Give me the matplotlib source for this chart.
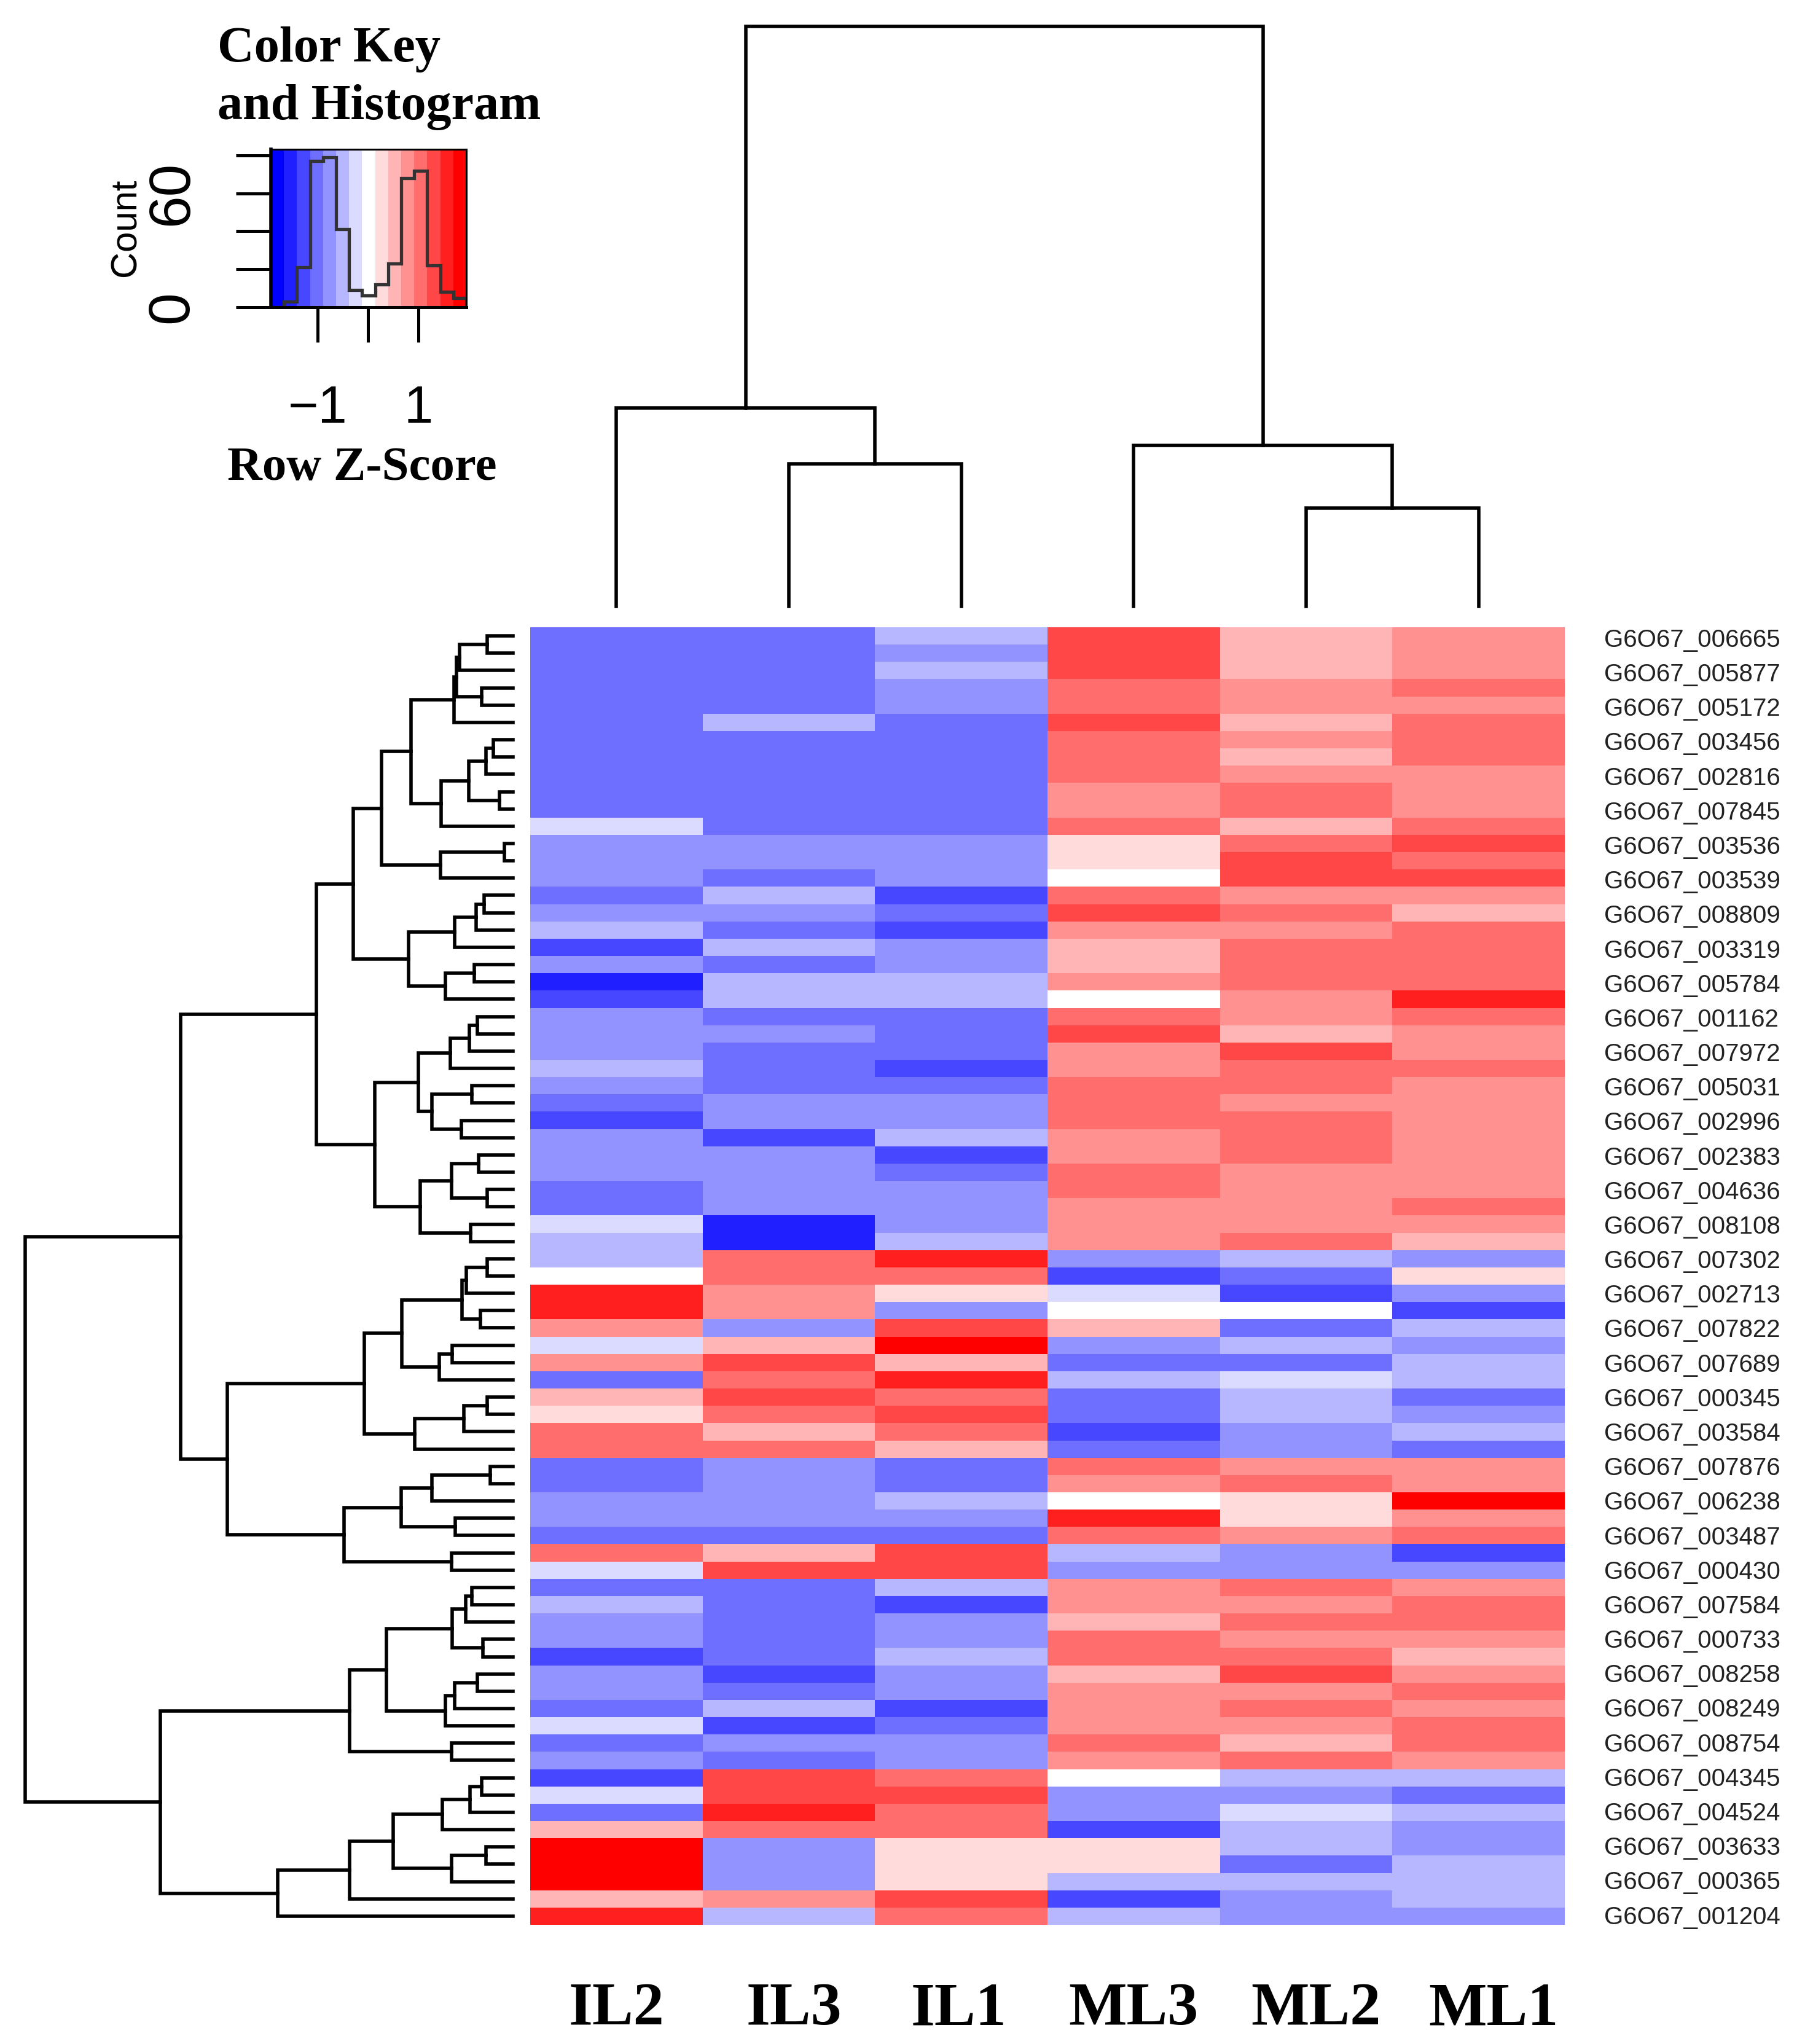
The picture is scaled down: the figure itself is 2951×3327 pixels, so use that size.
"""Heatmap of row z-scores with dendrograms and colour key (heatmap.2 look)."""
import numpy as np
import matplotlib
matplotlib.use('Agg')
import matplotlib.pyplot as plt
from matplotlib.colors import ListedColormap, BoundaryNorm

W, H = 2951, 3327
SERIF = 'Liberation Serif'
SANS = 'Liberation Sans'

SAMPLES = ['IL2', 'IL3', 'IL1', 'ML3', 'ML2', 'ML1']
SAMPLE_X = [1003, 1292, 1560, 1845, 2142, 2431]

GENE_LABELS = [
    'G6O67_006665', 'G6O67_005877', 'G6O67_005172', 'G6O67_003456', 'G6O67_002816',
    'G6O67_007845', 'G6O67_003536', 'G6O67_003539', 'G6O67_008809', 'G6O67_003319',
    'G6O67_005784', 'G6O67_001162', 'G6O67_007972', 'G6O67_005031', 'G6O67_002996',
    'G6O67_002383', 'G6O67_004636', 'G6O67_008108', 'G6O67_007302', 'G6O67_002713',
    'G6O67_007822', 'G6O67_007689', 'G6O67_000345', 'G6O67_003584', 'G6O67_007876',
    'G6O67_006238', 'G6O67_003487', 'G6O67_000430', 'G6O67_007584', 'G6O67_000733',
    'G6O67_008258', 'G6O67_008249', 'G6O67_008754', 'G6O67_004345', 'G6O67_004524',
    'G6O67_003633', 'G6O67_000365', 'G6O67_001204',
]

# colour bins of the key, -7 (blue) .. 7 (red)
KEY_COLORS = ['#0000FF', '#1F1FFF', '#4747FF', '#6E6EFF', '#9393FF', '#B7B7FF', '#DBDBFF',
              '#FFFFFF', '#FFDBDB', '#FFB5B5', '#FF9191', '#FF6D6D', '#FF4747', '#FF1F1F', '#FF0000']
KEY_LEVELS = [-7, -6, -5, -4, -3, -2, -1, 0, 1, 2, 3, 4, 5, 6, 7]
HIST_COUNTS = [0, 3, 21, 77, 79, 41, 9, 6, 12, 23, 68, 72, 22, 8, 5]

# binned z-score per row: IL2, IL3, IL1, ML3, ML2, ML1
ROWS = [
    [-4, -4, -2, 5, 2, 3], [-4, -4, -3, 5, 2, 3], [-4, -4, -2, 5, 2, 3], [-4, -4, -3, 4, 3, 4],
    [-4, -4, -3, 4, 3, 3], [-4, -2, -4, 5, 2, 4], [-4, -4, -4, 4, 3, 4], [-4, -4, -4, 4, 2, 4],
    [-4, -4, -4, 4, 3, 3], [-4, -4, -4, 3, 4, 3], [-4, -4, -4, 3, 4, 3], [-1, -4, -4, 4, 2, 4],
    [-3, -3, -3, 1, 4, 5], [-3, -3, -3, 1, 5, 4], [-3, -4, -3, 0, 5, 5], [-4, -2, -5, 4, 3, 3],
    [-3, -3, -4, 5, 4, 2], [-2, -4, -5, 3, 3, 4], [-5, -2, -3, 2, 4, 4], [-3, -4, -3, 2, 4, 4],
    [-6, -2, -2, 3, 4, 4], [-5, -2, -2, 0, 3, 6], [-3, -4, -4, 4, 3, 4], [-3, -3, -4, 5, 2, 3],
    [-3, -4, -4, 3, 5, 3], [-2, -4, -5, 3, 4, 4], [-3, -4, -4, 4, 4, 3], [-4, -3, -3, 4, 3, 3],
    [-5, -3, -3, 4, 4, 3], [-3, -5, -2, 3, 4, 3], [-3, -3, -5, 3, 4, 3], [-3, -3, -4, 4, 3, 3],
    [-4, -3, -3, 4, 3, 3], [-4, -3, -3, 3, 3, 4], [-1, -6, -3, 3, 3, 3], [-2, -6, -2, 3, 4, 2],
    [-2, 4, 6, -3, -2, -3], [0, 4, 4, -5, -4, 1], [6, 3, 1, -1, -5, -3], [6, 3, -3, 0, 0, -5],
    [3, -3, 5, 2, -4, -2], [-1, 2, 7, -3, -2, -3], [3, 5, 2, -4, -4, -2], [-4, 4, 6, -2, -1, -2],
    [2, 5, 4, -4, -2, -4], [1, 4, 5, -4, -2, -3], [4, 2, 4, -5, -3, -2], [4, 4, 2, -4, -3, -4],
    [-4, -3, -4, 4, 3, 3], [-4, -3, -4, 3, 4, 3], [-3, -3, -2, 0, 1, 7], [-3, -3, -3, 6, 1, 3],
    [-4, -4, -4, 4, 3, 4], [4, 2, 5, -2, -3, -5], [-1, 5, 5, -3, -3, -3], [-4, -4, -2, 3, 4, 3],
    [-2, -4, -5, 3, 3, 4], [-3, -4, -3, 2, 4, 4], [-3, -4, -3, 4, 3, 3], [-5, -4, -2, 4, 4, 2],
    [-3, -5, -3, 2, 5, 3], [-3, -4, -3, 3, 3, 4], [-4, -2, -5, 3, 4, 3], [-1, -5, -4, 3, 3, 4],
    [-4, -3, -3, 4, 2, 4], [-3, -4, -3, 3, 4, 3], [-5, 5, 4, 0, -2, -2], [-1, 5, 5, -3, -3, -4],
    [-4, 6, 4, -3, -1, -2], [2, 4, 4, -5, -2, -3], [7, -3, 1, 1, -2, -3], [7, -3, 1, 1, -4, -2],
    [7, -3, 1, -2, -2, -2], [2, 3, 5, -5, -3, -2], [6, -2, 4, -2, -3, -3],
]

# dendrograms: (height, child, child), None is a leaf, leaves run in drawing order
L = None
group_a = (583,
    (475,
        (391,
            (303,
                (175, (168, (158, (76, L, L), L), (93, L, L)), L),
                (213, (131, (81, (58, L, L), L), (40, L, L)), L)),
            (216, (26, L, L), L)),
        (310,
            (173, (110, (85, L, L), L), L),
            (201, (115, L, L), L))),
    (410,
        (281,
            (186, (130, (105, L, L), L), L),
            (240, (123, L, L), (153, L, L))),
        (276,
            (183, (103, L, L), (76, L, L)),
            (126, L, L))))
group_b = (848,
    (441,
        (330,
            (151, (138, (76, L, L), L), (96, L, L)),
            (218, (180, L, L), L)),
        (291, (146, (76, L, L), L), L)),
    (501,
        (331,
            (240, (68, L, L), L),
            (171, L, L)),
        (183, L, L)))
group_c = (1046,
    (486,
        (375,
            (181, (141, (123, L, L), L), (90, L, L)),
            (201, (173, (105, L, L), L), L)),
        (183, L, L)),
    (698,
        (486,
            (356,
                (210, (128, (93, L, L), L), L),
                (183, (80, L, L), L)),
            L),
        L))
ROW_TREE = (1448, (986, group_a, group_b), group_c)
COL_TREE = (944, (323, L, (232, L, L)), (262, L, (160, L, L)))


def px_axes(x0, y0, x1, y1):
    return fig.add_axes([x0 / W, 1 - y1 / H, (x1 - x0) / W, (y1 - y0) / H])


def px_text(x, y, s, **kw):
    fig.text(x / W, 1 - y / H, s, **kw)


def draw_tree(ax, node, next_leaf, horizontal, lw=4.0):
    """葉は順番に置く. returns (position, height) of the node."""
    if node is None:
        pos = next_leaf[0] + 0.5
        next_leaf[0] += 1
        return pos, 0
    h, a, b = node
    pa, ha = draw_tree(ax, a, next_leaf, horizontal, lw)
    pb, hb = draw_tree(ax, b, next_leaf, horizontal, lw)
    hs, ps = [ha, h, h, hb], [pa, pa, pb, pb]
    if horizontal:
        ax.plot(hs, ps, color='k', lw=lw, clip_on=False, solid_joinstyle='miter')
    else:
        ax.plot(ps, hs, color='k', lw=lw, clip_on=False, solid_joinstyle='miter')
    return (pa + pb) / 2, h


fig = plt.figure(figsize=(W / 100, H / 100), dpi=100, facecolor='white')
cmap = ListedColormap(KEY_COLORS)
norm = BoundaryNorm(np.arange(-7.5, 8.5), cmap.N)

# ── heatmap ──
ax = px_axes(863, 1021, 2547, 3133)
ax.pcolormesh(np.array(ROWS), cmap=cmap, norm=norm, edgecolors='none', antialiased=False)
ax.set_ylim(len(ROWS), 0)
ax.set_xlim(0, len(SAMPLES))
ax.yaxis.tick_right()
ax.set_yticks(np.arange(0, len(ROWS), 2) * 0.9975 + 0.6)
ax.set_yticklabels(GENE_LABELS, family=SANS, fontsize=29, color='#222222')
ax.tick_params(axis='y', length=0, pad=46)
ax.set_xticks([])
for s in ax.spines.values():
    s.set_visible(False)

for name, x in zip(SAMPLES, SAMPLE_X):
    px_text(x, 3295, name, family=SERIF, weight='bold', fontsize=72, ha='center', va='baseline')

# ── dendrograms ──
ax_r = px_axes(41, 1021, 835, 3133)
ax_r.set_xlim(ROW_TREE[0], 0)
ax_r.set_ylim(len(ROWS), 0)
ax_r.axis('off')
draw_tree(ax_r, ROW_TREE, [0], True)

ax_c = px_axes(863, 43, 2547, 987)
ax_c.set_xlim(0, len(SAMPLES))
ax_c.set_ylim(0, COL_TREE[0])
ax_c.axis('off')
draw_tree(ax_c, COL_TREE, [0], False)

# ── colour key ──
edges = np.linspace(-1.93, 1.95, len(KEY_LEVELS) + 1)
ax_k = px_axes(441, 243, 759, 500)
ax_k.pcolormesh(edges, [0, 83.2], np.array([KEY_LEVELS]), cmap=cmap, norm=norm, antialiased=False)
ax_k.stairs(HIST_COUNTS, edges, color='#333333', lw=3.8)
ax_k.set_xlim(edges[0], edges[-1])
ax_k.set_ylim(0, 83.2)
ax_k.set_xticks([-1, 0, 1])
ax_k.set_xticklabels(['\u22121', '', '1'], family=SANS, fontsize=61)
ax_k.set_yticks([0, 20, 40, 60, 80])
ax_k.set_yticklabels(['0', '', '', '60', ''], family=SANS, fontsize=68, rotation=90, va='center')
ax_k.tick_params(axis='x', length=41, width=3.6, pad=50)
ax_k.tick_params(axis='y', length=41, width=3.6, pad=42)
for s in ax_k.spines.values():
    s.set_linewidth(2.2)
ax_k.spines['left'].set_linewidth(4)
ax_k.spines['bottom'].set_linewidth(3.6)

px_text(205, 370, 'Count', family=SANS, fontsize=43, rotation=90, ha='center', va='center')
px_text(354, 100, 'Color Key', family=SERIF, weight='bold', fontsize=59.5, va='baseline')
px_text(354, 194, 'and Histogram', family=SERIF, weight='bold', fontsize=59, va='baseline')
px_text(589, 781, 'Row Z-Score', family=SERIF, weight='bold', fontsize=56.7, ha='center', va='baseline')

plt.savefig('out.png', dpi=100)
plt.close(fig)
